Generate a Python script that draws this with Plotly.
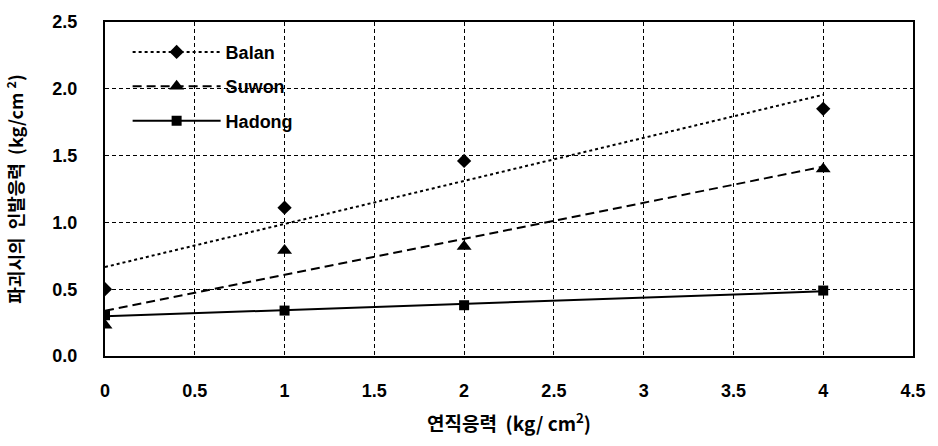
import numpy as np
import plotly.graph_objects as go

# Vertical stress (kg/cm^2) and pull-out stress at failure (kg/cm^2)
vertical_stress = [0, 1, 2, 4]
balan = [0.50, 1.11, 1.46, 1.85]
suwon = [0.23, 0.79, 0.82, 1.40]
hadong = [0.305, 0.34, 0.38, 0.49]

series_names = ["Balan", "Suwon", "Hadong"]
x_ticks = [0, 0.5, 1, 1.5, 2, 2.5, 3, 3.5, 4, 4.5]
y_ticks = [0.0, 0.5, 1.0, 1.5, 2.0, 2.5]

styles = {
    "Balan": dict(dash="dot", symbol="diamond", size=11),
    "Suwon": dict(dash="9px,5px", symbol="triangle-up", size=13),
    "Hadong": dict(dash="solid", symbol="square", size=10),
}

fig = go.Figure()

x = np.array(vertical_stress, dtype=float)
x_line = np.array([x.min(), x.max()])
for name, vals in zip(series_names, [balan, suwon, hadong]):
    st = styles[name]
    # linear trendline fitted to the measured points
    slope, intercept = np.polyfit(x, np.array(vals), 1)
    fig.add_trace(go.Scatter(
        x=x_line, y=slope * x_line + intercept, mode="lines",
        line=dict(color="black", width=2, dash=st["dash"]),
        showlegend=False, hoverinfo="skip"))
    fig.add_trace(go.Scatter(
        x=vertical_stress, y=vals, mode="markers",
        marker=dict(color="black", symbol=st["symbol"], size=st["size"]),
        showlegend=False, name=name))
    # legend entry: line with marker
    fig.add_trace(go.Scatter(
        x=[None], y=[None], mode="lines+markers", name=name,
        legendgroup=name,
        line=dict(color="black", width=2, dash=st["dash"]),
        marker=dict(color="black", symbol=st["symbol"], size=st["size"])))

tick_font = dict(family="Liberation Sans, Arial", size=18, color="black", weight="bold")
x_title_font = dict(family="Noto Sans CJK KR", size=19, color="black", weight="bold")
y_title_font = dict(family="Noto Sans CJK KR", size=18, color="black", weight="bold")

fig.update_layout(
    width=938, height=446,
    margin=dict(l=105, r=21, t=13, b=90),
    paper_bgcolor="white", plot_bgcolor="white",
    showlegend=True,
    legend=dict(x=0.028, y=0.965, xanchor="left", yanchor="top",
                bgcolor="rgba(0,0,0,0)", font=dict(family="Liberation Sans, Arial", size=18,
                                                   color="black", weight="bold"),
                traceorder="grouped", tracegroupgap=8, itemwidth=88),
    xaxis=dict(
        range=[0, 4.5], tickvals=x_ticks, ticktext=[f"{v:g}" for v in x_ticks],
        showgrid=True, gridcolor="black", gridwidth=1, griddash="4px,3px",
        zeroline=False, showline=True, linecolor="black", linewidth=2, mirror=True,
        ticks="", tickfont=tick_font, ticklabelstandoff=17,
        title=dict(text="연직응력  (kg/ cm<sup>2</sup>)", font=x_title_font, standoff=18),
    ),
    yaxis=dict(
        range=[0, 2.5], tickvals=y_ticks, tickformat=".1f",
        showgrid=True, gridcolor="black", gridwidth=1, griddash="4px,3px",
        zeroline=False, showline=True, linecolor="black", linewidth=2, mirror=True,
        ticks="", tickfont=tick_font, ticklabelstandoff=22,
        title=dict(text="파괴시의  인발응력  (kg/cm <sup>2</sup>)", font=y_title_font, standoff=24),
    ),
)

fig.write_html("out.html")
